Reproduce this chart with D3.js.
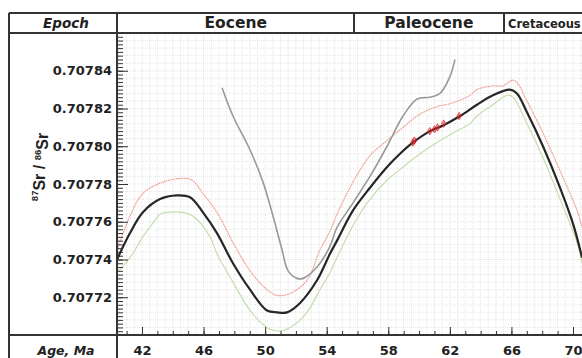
<!DOCTYPE html>
<html>
<head>
<meta charset="utf-8">
<script src="https://cdn.jsdelivr.net/npm/d3@7"></script>
<style>
  body { margin: 0; background: #fff; }
  svg text { font-family: "DejaVu Sans", sans-serif; font-weight: bold; fill: #222; }
</style>
</head>
<body>
<svg id="chart" width="582" height="358"></svg>
<script>
// LOWESS FIT (black)
const fitAge = [40.38, 41.22, 42.06, 43.17, 44.27, 45.12, 45.96, 46.87, 47.91, 49.02, 50.12, 50.77, 51.42, 52.27, 53.37, 54.21, 54.67, 55.71, 56.81, 57.92, 58.76, 59.61, 60.71, 61.56, 62.66, 63.76, 64.80, 65.91, 66.36, 67.01, 68.05, 69.16, 70.00, 70.59];
const fitSr = [0.707740, 0.707754, 0.707765, 0.707772, 0.707774, 0.707773, 0.707765, 0.707754, 0.707738, 0.707724, 0.707713, 0.707712, 0.707712, 0.707717, 0.707729, 0.707743, 0.707750, 0.707766, 0.707778, 0.707789, 0.707796, 0.707802, 0.707808, 0.707811, 0.707816, 0.707822, 0.707827, 0.707830, 0.707828, 0.707818, 0.707800, 0.707778, 0.707759, 0.707741];

// UPPER CONFIDENCE LIMIT (red)
const upperAge = [40.38, 41.22, 42.06, 43.36, 44.66, 45.25, 45.96, 46.87, 47.91, 49.02, 50.12, 50.77, 51.62, 52.72, 53.56, 54.21, 54.67, 55.71, 56.81, 57.92, 58.96, 60.06, 61.17, 62.20, 63.31, 63.76, 64.80, 65.45, 66.10, 66.43, 67.01, 68.05, 69.16, 70.26, 70.59];
const upperSr = [0.707745, 0.707763, 0.707775, 0.707781, 0.707783, 0.707782, 0.707775, 0.707765, 0.707749, 0.707734, 0.707724, 0.707721, 0.707722, 0.707729, 0.707745, 0.707755, 0.707764, 0.707781, 0.707795, 0.707803, 0.707810, 0.707817, 0.707821, 0.707823, 0.707827, 0.707830, 0.707832, 0.707832, 0.707835, 0.707833, 0.707824, 0.707807, 0.707787, 0.707766, 0.707757];

// LOWER CONFIDENCE LIMIT (green)
const lowerAge = [40.38, 41.22, 42.06, 42.97, 43.17, 44.66, 45.31, 46.42, 46.87, 47.91, 49.02, 50.12, 50.84, 51.62, 52.72, 53.56, 54.21, 54.67, 55.71, 56.81, 57.92, 58.96, 60.06, 61.17, 62.20, 63.31, 63.76, 64.80, 65.71, 66.10, 67.01, 68.05, 69.16, 70.26, 70.59];
const lowerSr = [0.707733, 0.707741, 0.707752, 0.707762, 0.707764, 0.707765, 0.707763, 0.707752, 0.707743, 0.707728, 0.707713, 0.707704, 0.707702, 0.707704, 0.707712, 0.707724, 0.707733, 0.707741, 0.707758, 0.707772, 0.707782, 0.707789, 0.707796, 0.707802, 0.707807, 0.707812, 0.707816, 0.707822, 0.707827, 0.707826, 0.707812, 0.707794, 0.707772, 0.707749, 0.707738];

// OLDER CURVE (grey)
const oldAge = [47.20, 47.91, 49.02, 49.86, 50.51, 51.10, 51.49, 52.07, 52.46, 53.37, 54.21, 54.67, 55.71, 56.81, 57.92, 58.96, 59.87, 60.71, 61.36, 62.01, 62.33];
const oldSr = [0.707831, 0.707816, 0.707798, 0.707781, 0.707763, 0.707745, 0.707734, 0.707730, 0.707730, 0.707736, 0.707747, 0.707757, 0.707770, 0.707784, 0.707800, 0.707816, 0.707825, 0.707826, 0.707828, 0.707837, 0.707846];

// SAMPLES (red markers)
const sampleAge = [59.6, 59.7, 60.7, 61.0, 61.2, 61.6, 62.6];
const sampleSr = [0.707802, 0.707803, 0.707808, 0.707809, 0.707810, 0.707812, 0.707816];

// HEADER / AXES
const epochNames = ["Eocene", "Paleocene", "Cretaceous"];
const epochStart = [40.38, 55.8, 65.5];
const epochEnd = [55.8, 65.5, 71.2];
const xTicks = [42, 46, 50, 54, 58, 62, 66, 70];
const yTicks = [0.70772, 0.70774, 0.70776, 0.70778, 0.70780, 0.70782, 0.70784];

const svg = d3.select("#chart");

// PLOT BOX
const pLeft = 117, pTop = 33, pBottom = 335, pRight = 600;

const x = d3.scaleLinear().domain([42, 70]).range([142, 573]);
const y = d3.scaleLinear().domain([0.70770, 0.70786]).range([pBottom, pTop]);

svg.append("clipPath").attr("id", "clip")
  .append("rect").attr("x", pLeft).attr("y", pTop)
  .attr("width", pRight - pLeft).attr("height", pBottom - pTop);

// GRID
const grid = svg.append("g").attr("clip-path", "url(#clip)");
grid.selectAll("line.v")
  .data(d3.range(40.5, 71.01, 0.5))
  .enter().append("line")
  .attr("x1", d => x(d)).attr("x2", d => x(d))
  .attr("y1", pTop).attr("y2", pBottom)
  .attr("stroke", "#dedede").attr("stroke-width", 0.8)
  .attr("stroke-dasharray", "1,1");
grid.selectAll("line.h")
  .data(d3.range(0.707700, 0.707861, 0.000004))
  .enter().append("line")
  .attr("x1", pLeft).attr("x2", pRight)
  .attr("y1", d => y(d)).attr("y2", d => y(d))
  .attr("stroke", "#dedede").attr("stroke-width", 0.8)
  .attr("stroke-dasharray", "1,1");

// CURVES
function drawCurve(ages, vals, color, width, dash) {
  const line = d3.line()
    .x(d => x(d[0]))
    .y(d => y(d[1]))
    .curve(d3.curveCatmullRom.alpha(0.5));
  grid.append("path")
    .datum(ages.map((a, i) => [a, vals[i]]))
    .attr("d", line)
    .attr("fill", "none")
    .attr("stroke", color)
    .attr("stroke-width", width)
    .attr("stroke-dasharray", dash);
}

drawCurve(upperAge, upperSr, "#f2a49a", 1.2, "2,0.6");
drawCurve(lowerAge, lowerSr, "#c4dfae", 1.2, null);
drawCurve(oldAge, oldSr, "#9a9a9a", 1.6, null);
drawCurve(fitAge, fitSr, "#262626", 2.2, null);

// SAMPLE MARKERS
const sym = d3.symbol().type(d3.symbolDiamond).size(16);
grid.selectAll("path.sample")
  .data(sampleAge.map((a, i) => [a, sampleSr[i]]))
  .enter().append("path")
  .attr("d", sym)
  .attr("transform", d => "translate(" + x(d[0]) + "," + y(d[1]) + ")")
  .attr("fill", "rgba(230,40,40,0.45)")
  .attr("stroke", "#e02020")
  .attr("stroke-width", 0.7);

// Y AXIS
const yMinor = d3.axisLeft(y)
  .tickValues(d3.range(0.707700, 0.707861, 0.000002))
  .tickSize(-6).tickFormat("");
svg.append("g").attr("transform", "translate(" + pLeft + ",0)").call(yMinor)
  .call(g => g.select(".domain").remove())
  .selectAll("line").attr("stroke", "#333");

const yAxis = d3.axisLeft(y)
  .tickValues(yTicks)
  .tickSize(-11).tickPadding(5)
  .tickFormat(d3.format(".5f"));
svg.append("g").attr("transform", "translate(" + pLeft + ",0)").call(yAxis)
  .call(g => g.select(".domain").remove())
  .call(g => g.selectAll("line").attr("stroke", "#333"))
  .selectAll("text")
  .style("font-size", "13px")
  .style("font-family", "DejaVu Sans")
  .style("font-weight", "bold")
  .attr("fill", "#222");

// X AXIS
const xMinor = d3.axisBottom(x)
  .tickValues(d3.range(41, 71, 1))
  .tickSize(-4).tickFormat("");
svg.append("g").attr("transform", "translate(0," + pBottom + ")").call(xMinor)
  .call(g => g.select(".domain").remove())
  .selectAll("line").attr("stroke", "#333");

const xAxis = d3.axisBottom(x)
  .tickValues(xTicks)
  .tickSize(-8).tickPadding(11);
svg.append("g").attr("transform", "translate(0," + pBottom + ")").call(xAxis)
  .call(g => g.select(".domain").remove())
  .call(g => g.selectAll("line").attr("stroke", "#333"))
  .selectAll("text")
  .style("font-size", "13px")
  .style("font-family", "DejaVu Sans")
  .style("font-weight", "bold")
  .attr("fill", "#222");

// FRAME
const frame = svg.append("g").attr("stroke", "#333").attr("stroke-width", 2);
frame.append("line").attr("x1", 9).attr("x2", 590).attr("y1", 13).attr("y2", 13);
frame.append("line").attr("x1", 9).attr("x2", 590).attr("y1", pTop).attr("y2", pTop);
frame.append("line").attr("x1", 9).attr("x2", 590).attr("y1", pBottom).attr("y2", pBottom);
frame.append("line").attr("x1", 9).attr("x2", 9).attr("y1", 13).attr("y2", 360);
frame.append("line").attr("x1", pLeft).attr("x2", pLeft).attr("y1", 13).attr("y2", 360);

// EPOCH HEADER
const cellX = (a) => a <= 40.38 ? pLeft : Math.round(x(a));
epochNames.forEach((name, i) => {
  const x0 = cellX(epochStart[i]);
  const x1 = x(epochEnd[i]);
  if (i > 0) {
    frame.append("line").attr("x1", x0).attr("x2", x0).attr("y1", 13).attr("y2", pTop);
  }
  const t = svg.append("text")
    .attr("y", 28)
    .style("font-size", name === "Cretaceous" ? "11.5px" : "15.5px")
    .text(name);
  if (name === "Cretaceous") {
    t.attr("x", x0 + 4).attr("text-anchor", "start");
  } else {
    t.attr("x", (x0 + x1) / 2).attr("text-anchor", "middle");
  }
});

svg.append("text")
  .attr("x", 66).attr("y", 28)
  .attr("text-anchor", "middle")
  .style("font-size", "13.5px")
  .style("font-style", "italic")
  .text("Epoch");

svg.append("text")
  .attr("x", 66).attr("y", 355)
  .attr("text-anchor", "middle")
  .style("font-size", "12.5px")
  .style("font-style", "italic")
  .text("Age, Ma");

// Y LABEL
const yl = svg.append("text")
  .attr("transform", "translate(42,167) rotate(-90)")
  .attr("text-anchor", "middle")
  .style("font-family", "Liberation Sans")
  .style("font-size", "16px");
yl.append("tspan").attr("dy", "-0.45em").style("font-size", "9.5px").text("87");
yl.append("tspan").attr("dy", "0.45em").text("Sr / ");
yl.append("tspan").attr("dy", "-0.45em").style("font-size", "9.5px").text("86");
yl.append("tspan").attr("dy", "0.45em").text("Sr");
</script>
</body>
</html>
